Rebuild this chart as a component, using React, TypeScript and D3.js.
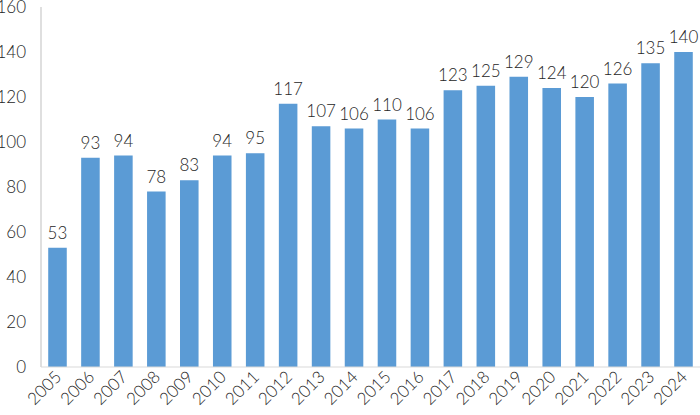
import React from "react";
import * as d3 from "d3";

const years = ["2005","2006","2007","2008","2009","2010","2011","2012","2013","2014","2015","2016","2017","2018","2019","2020","2021","2022","2023","2024"];
const values = [53,93,94,78,83,94,95,117,107,106,110,106,123,125,129,124,120,126,135,140];
const yTicks = [0,20,40,60,80,100,120,140,160];

const W = 700, H = 415;
const left = 41, right = 700, top = 7, bottom = 367;
const FONT = "'Lato', 'Open Sans', sans-serif";

export default function App() {
  const x = d3.scaleBand<string>().domain(years).range([left, right]).paddingInner(0.437).paddingOuter(0.219);
  const y = d3.scaleLinear().domain([0, 160]).range([bottom, top]);
  return (
    <svg width={W} height={H} style={{ position: "absolute", left: 0, top: 0 }} fontFamily={FONT} fontWeight={300}>
      <line x1={left} x2={left} y1={top} y2={bottom} stroke="#bfbfbf" strokeWidth={1} />
      {yTicks.map(t => (
        <text key={t} x={26} y={y(t)} dy="0.35em" textAnchor="end" fontSize={17} fill="#262626">{t}</text>
      ))}
      {years.map((yr, i) => (
        <rect key={yr} x={x(yr)} y={y(values[i])} width={x.bandwidth()} height={bottom - y(values[i])} fill="#5b9bd5" />
      ))}
      <line x1={left} x2={right} y1={bottom} y2={bottom} stroke="#d9d9d9" strokeWidth={1} />
      {years.map((yr, i) => (
        <text key={"v" + yr} x={x(yr)! + x.bandwidth() / 2} y={y(values[i]) - 9} textAnchor="middle" fontSize={17} fill="#262626">{values[i]}</text>
      ))}
      {years.map(yr => {
        const cx = x(yr)! + x.bandwidth() / 2 + 5;
        const cy = bottom + 11;
        return (
          <text key={"x" + yr} x={cx} y={cy} textAnchor="end" fontSize={17} fill="#262626" transform={`rotate(-45 ${cx} ${cy})`}>{yr}</text>
        );
      })}
    </svg>
  );
}
